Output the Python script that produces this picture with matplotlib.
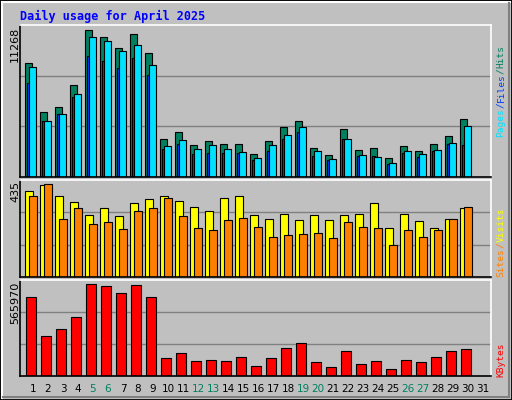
import matplotlib.pyplot as plt
from matplotlib.patches import Rectangle

days = list(range(1, 32))
n = 30  # days with data

hits_max = 11268
visits_max = 435
kbytes_max = 565970

# values
hits = [8476, 4831, 5203, 6838, 10897, 10377, 9560, 10600, 9188, 2780, 3300, 2409, 2632,
        2483, 2483, 1740, 2632, 3672, 4118, 2186, 1667, 3523, 2037, 2186, 1444, 2335,
        1964, 2483, 3003, 4266]
files = [8179, 4162, 4683, 6169, 10377, 10080, 9337, 9783, 8328, 2335, 2706, 2111, 2409,
         2111, 1888, 1444, 2409, 3078, 3672, 1964, 1370, 2780, 1667, 1518, 1073, 1964,
         1741, 2037, 2557, 3746]
pages = [6987, 4162, 4683, 5946, 8971, 8600, 8080, 8823, 7560, 2111, 2483, 1741, 1815,
         1815, 1815, 1295, 1964, 2854, 3300, 1592, 1295, 2780, 1592, 1592, 995, 1815,
         1518, 1964, 2483, 2409]
visits = [385, 412, 363, 336, 278, 310, 274, 332, 350, 363, 341, 314, 296, 353, 363,
          278, 260, 283, 256, 278, 256, 278, 283, 332, 218, 283, 251, 218, 260, 310]
sites = [363, 416, 260, 310, 236, 245, 214, 296, 310, 353, 274, 220, 211, 254, 263,
         223, 178, 187, 191, 196, 173, 245, 223, 220, 145, 211, 178, 211, 260, 314]
kbytes = [464970, 233610, 275100, 346240, 541260, 529400, 487900, 535330, 464970,
          108720, 138360, 90930, 96860, 90930, 114650, 61280, 108720, 168010, 191730,
          84990, 55350, 150230, 73130, 90930, 43490, 96860, 84990, 114650, 150230, 162080]

weekend = [5, 6, 12, 13, 19, 20, 26, 27]

W, H = 512, 400
fig = plt.figure(figsize=(W / 100, H / 100), dpi=100)
fig.patch.set_facecolor('#C0C0C0')

# bevelled border
fig.add_artist(Rectangle((0, 0), 1, 1, transform=fig.transFigure, fill=False,
                         edgecolor='black', lw=2))
fig.add_artist(plt.Line2D([2 / W, 2 / W], [2 / H, 1 - 2 / H], color='white', lw=1.5))
fig.add_artist(plt.Line2D([2 / W, 1 - 2 / W], [1 - 2 / H, 1 - 2 / H], color='white', lw=1.5))
fig.add_artist(plt.Line2D([1 - 3 / W, 1 - 3 / W], [3 / H, 1 - 3 / H], color='#808080', lw=1.5))
fig.add_artist(plt.Line2D([3 / W, 1 - 3 / W], [3 / H, 3 / H], color='#808080', lw=1.5))

mono = 'DejaVu Sans Mono'
fig.text(20 / W, 1 - 16 / H, 'Daily usage for April 2025', color='#0000FF',
         family=mono, weight='bold', fontsize=8.5, va='center', ha='left')

x0, x1 = 20.3, 491


def panel(top, bottom):
    ax = fig.add_axes([x0 / W, 1 - bottom / H, (x1 - x0) / W, (bottom - top) / H])
    ax.set_facecolor('#C0C0C0')
    ax.set_xlim(0.667, 32.05)
    ax.set_xticks([])
    ax.set_yticks([])
    ax.spines['left'].set_color('black')
    ax.spines['bottom'].set_color('black')
    ax.spines['top'].set_color('white')
    ax.spines['right'].set_color('white')
    for s in ax.spines.values():
        s.set_linewidth(1.2)
    return ax


d = days[:n]
bk = dict(edgecolor='black', linewidth=0.8, align='edge')

ax1 = panel(25, 177)
ax1.set_ylim(0, hits_max)
for g in (1 / 3, 2 / 3):
    ax1.axhline(hits_max * g, color='#808080', lw=1, zorder=0)
ax1.bar(d, hits, width=0.467, color='#00805F', **bk)
ax1.bar([i + 0.09 for i in d], pages, width=0.2, color='#0040FF', **bk)
ax1.bar([i + 0.267 for i in d], files, width=0.467, color='#00E0FF', **bk)

ax2 = panel(180, 277)
ax2.set_ylim(0, visits_max)
for g in (1 / 3, 2 / 3):
    ax2.axhline(visits_max * g, color='#808080', lw=1, zorder=0)
ax2.bar(d, visits, width=0.53, color='#FFFF00', **bk)
ax2.bar([i + 0.267 for i in d], sites, width=0.5, color='#FF8000', **bk)

ax3 = panel(280, 376)
ax3.set_ylim(0, kbytes_max)
for g in (1 / 3, 2 / 3):
    ax3.axhline(kbytes_max * g, color='#808080', lw=1, zorder=0)
ax3.bar([i + 0.067 for i in d], kbytes, width=0.667, color='#FF0000', **bk)

# max labels on the left
for txt, ytop in ((str(hits_max), 27), (str(visits_max), 181), (str(kbytes_max), 282)):
    fig.text(15 / W, 1 - ytop / H, txt, rotation=90, ha='center', va='top',
             fontsize=8, color='black')

# day labels
for day in days:
    xd = (day - 1) * 15 + 33
    fig.text(xd / W, 1 - 389 / H, str(day), ha='center', va='center', fontsize=7.5,
             color='#00805F' if day in weekend else 'black')


def side_label(parts, ybottom):
    # parts drawn from bottom to top, one fixed step per character
    y = ybottom
    for txt, col in parts:
        fig.text(501 / W, 1 - y / H, txt, rotation=90, ha='center', va='bottom',
                 family=mono, fontsize=6.8, color=col)
        y -= len(txt) * 5.75


side_label([('Pages', '#00E0FF'), ('/', '#0040FF'), ('Files', '#0040FF'),
            ('/', '#00805F'), ('Hits', '#00805F')], 137)
side_label([('Sites', '#FF8000'), ('/', '#FF8000'), ('Visits', '#FFFF00')], 277)
side_label([('KBytes', '#FF0000')], 377)

fig.savefig('out.png', dpi=100, facecolor=fig.get_facecolor())
